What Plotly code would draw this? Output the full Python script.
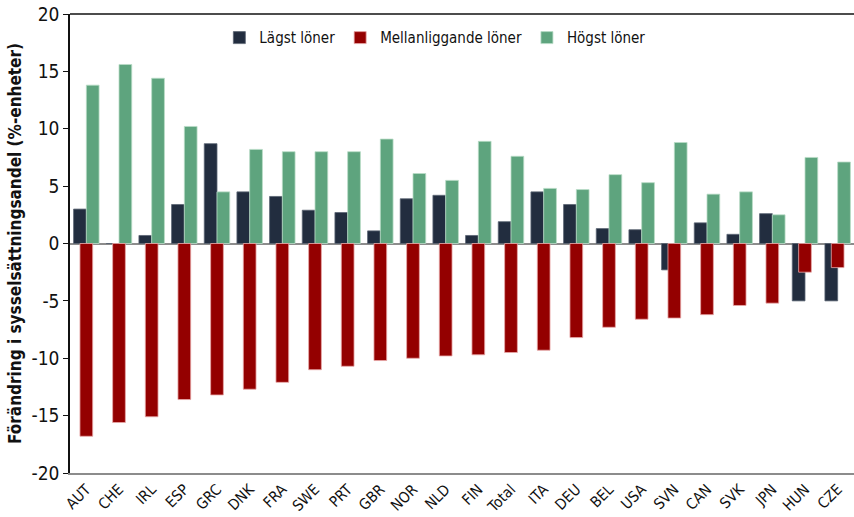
import plotly.graph_objects as go

categories = ["AUT", "CHE", "IRL", "ESP", "GRC", "DNK", "FRA", "SWE", "PRT", "GBR", "NOR", "NLD",
              "FIN", "Total", "ITA", "DEU", "BEL", "USA", "SVN", "CAN", "SVK", "JPN", "HUN", "CZE"]
lowest = [3.0, 0.0, 0.7, 3.4, 8.7, 4.5, 4.1, 2.9, 2.7, 1.1, 3.9, 4.2,
          0.7, 1.9, 4.5, 3.4, 1.3, 1.2, -2.3, 1.8, 0.8, 2.6, -5.0, -5.0]
middle = [-16.8, -15.6, -15.1, -13.6, -13.2, -12.7, -12.1, -11.0, -10.7, -10.2, -10.0, -9.8,
          -9.7, -9.5, -9.3, -8.2, -7.3, -6.6, -6.5, -6.2, -5.4, -5.2, -2.5, -2.1]
highest = [13.8, 15.6, 14.4, 10.2, 4.5, 8.2, 8.0, 8.0, 8.0, 9.1, 6.1, 5.5,
           8.9, 7.6, 4.8, 4.7, 6.0, 5.3, 8.8, 4.3, 4.5, 2.5, 7.5, 7.1]
y_ticks = [-20, -15, -10, -5, 0, 5, 10, 15, 20]

FONT = "DejaVu Sans Condensed, Liberation Sans Narrow, Liberation Sans, Arial, sans-serif"
W = 0.39

fig = go.Figure()
fig.add_trace(go.Bar(x=categories, y=lowest, name="Lägst löner", width=W, offset=-W,
                     marker=dict(color="#222d3f", line=dict(color="#5a6474", width=0.8)),
                     legendrank=1))
fig.add_trace(go.Bar(x=categories, y=highest, name="Högst löner", width=W, offset=0,
                     marker=dict(color="#5ea47e", line=dict(color="#b9dcc6", width=0.8)),
                     legendrank=3))
fig.add_trace(go.Bar(x=categories, y=middle, name="Mellanliggande löner", width=W, offset=-W / 2,
                     marker=dict(color="#940000", line=dict(color="#e8a8a8", width=0.8)),
                     legendrank=2))

fig.update_layout(
    width=854, height=517,
    margin=dict(l=70, r=0, t=14, b=44, autoexpand=False),
    barmode="overlay",
    plot_bgcolor="white", paper_bgcolor="white",
    font=dict(family=FONT, size=17, color="#111111"),
    showlegend=True,
    legend=dict(orientation="h", x=0.466, xanchor="center", y=0.948, yanchor="middle",
                font=dict(family=FONT, size=15, color="#111111"), bgcolor="rgba(0,0,0,0)",
                itemwidth=30, traceorder="normal"),
    xaxis=dict(type="category", categoryorder="array", categoryarray=categories,
               showline=True, linecolor="#8c8c8c", linewidth=1.5, automargin=False,
               ticks="", tickangle=-45, tickfont=dict(family=FONT, size=15, color="#111111"),
               showgrid=False, range=[-0.5, len(categories) - 0.5]),
    yaxis=dict(range=[-20, 20], tickvals=y_ticks, ticktext=[str(v) for v in y_ticks],
               showline=True, linecolor="#111111", linewidth=1.5, automargin=False,
               ticks="outside", ticklen=5, tickcolor="#111111",
               showgrid=False, zeroline=True, zerolinecolor="#8c8c8c", zerolinewidth=1.5,
               layer="above traces",
               tickfont=dict(family=FONT, size=19, color="#111111"),
               title=dict(text="<b>Förändring i sysselsättningsandel (%-enheter)</b>",
                          font=dict(family=FONT, size=17, color="#111111"), standoff=6)),
)
fig.add_shape(type="line", xref="paper", yref="paper", x0=0, x1=1, y0=1, y1=1,
              line=dict(color="#111111", width=1.5))

fig.write_html("out.html", config={"displayModeBar": False},
               post_script="document.body.style.margin='0';")
